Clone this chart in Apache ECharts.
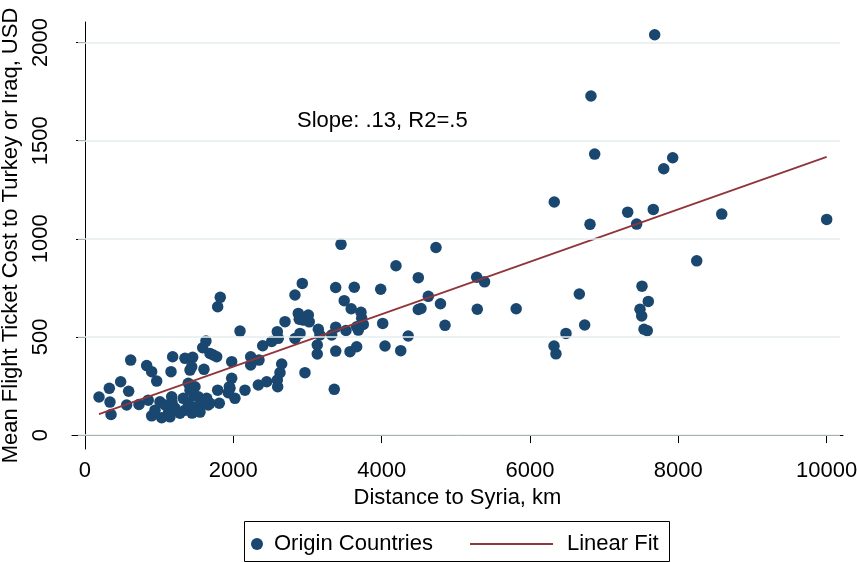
<!DOCTYPE html>
<html>
<head>
<meta charset="utf-8">
<title>Flight ticket cost vs distance to Syria</title>
<script src="https://cdn.jsdelivr.net/npm/echarts@6/dist/echarts.min.js"></script>
<style>
  html, body { margin: 0; padding: 0; background: #fff; }
  #chart { width: 857px; height: 562px; }
</style>
</head>
<body>
<div id="chart"></div>
<script>
// one entry per origin country: distance to Syria (km) and mean ticket cost (USD)
const distanceKm = [
  189, 328, 337, 351, 481, 589, 562, 616, 728, 832, 853, 899, 967, 899, 1011, 1034,
  1123, 1146, 1182, 1160, 1169, 1281, 1348, 1452, 1416, 1393, 1325, 1393, 1483, 1528,
  1528, 1604, 1631, 1587, 1685, 1776, 1789, 1824, 1662, 1789, 1811, 1978, 1978, 1955,
  2022, 2157, 2090, 2234, 2234, 2346, 2337, 2450, 2396, 2517, 2593, 2606, 2598, 2629,
  2652, 2697, 2831, 2899, 2876, 2943, 2930, 2831, 2966, 3011, 2889, 3024, 2593, 1439,
  1730, 1946, 1932, 1685, 1641, 1470, 1506, 1595, 1416, 1213, 1079, 944, 1348, 1443,
  1551, 1173,
  3452, 4193, 4494, 3380, 3631, 3987, 3495, 3589, 3721, 3731, 3752, 3685, 3663, 3146,
  3168, 3326, 3381, 3519, 4014, 3132, 3132, 3381, 3573, 3663, 4045, 4257, 4358, 3361,
  4732, 5281, 5387, 4629, 4793, 4494, 4530, 4854, 5289, 5814, 2989,
  6327, 6809, 7317, 7438, 7662, 8585, 10000, 8248, 6665, 6737, 6485, 6324, 6350, 7510,
  7595, 7483, 7506, 7537, 7581, 7681, 6822, 6872, 7924, 7803
];
const ticketUsd = [
  194, 238, 168, 105, 272, 223, 153, 382, 156, 354, 178, 323, 275, 98, 170, 88,
  111, 93, 399, 323, 195, 111, 391, 396, 331, 264, 187, 162, 246, 195,
  144, 335, 479, 445, 416, 399, 654, 702, 153, 229, 162, 374, 289, 238,
  187, 229, 530, 399, 357, 382, 255, 272, 455, 477, 527, 493, 246, 318,
  362, 578, 492, 518, 620, 586, 773, 714, 318, 612, 590, 577, 280, 348,
  408, 246, 216, 162, 187, 200, 144, 178, 229, 138, 153, 127, 127, 112,
  117, 168,
  972, 863, 802, 752, 753, 743, 685, 644, 626, 595, 564, 535, 552, 539,
  510, 510, 550, 533, 569, 459, 413, 428, 425, 450, 454, 430, 505, 233,
  956, 804, 781, 707, 669, 640, 645, 559, 641, 644, 595,
  1188, 1074, 1136, 1075, 1150, 1126, 1099, 888, 719, 561, 518, 454, 414, 759,
  681, 641, 607, 539, 532, 2040, 1728, 1432, 1413, 1357
];

// linear fit, drawn from the nearest to the farthest country
const fitDistance = [189, 10000];
const fitCost = [107, 1418];

const xTicks = [0, 2000, 4000, 6000, 8000, 10000];
const yTicks = [0, 500, 1000, 1500, 2000];

const FONT = '"Liberation Sans", Arial, sans-serif';
const NAVY = '#1a476f';
const MAROON = '#90353b';

let chart = echarts.init(document.getElementById('chart'));

let points = distanceKm.map((d, i) => [d, ticketUsd[i]]);
let fitLine = fitDistance.map((d, i) => [d, fitCost[i]]);

// horizontal gridlines at the y ticks
let gridLines = yTicks.map(v => [{ coord: [-94, v] }, { coord: [10180, v] }]);

chart.setOption({
  animation: false,
  backgroundColor: '#fff',
  textStyle: { fontFamily: FONT },
  grid: { left: 72, right: 14, top: 22, bottom: 113, containLabel: false, outerBoundsMode: 'none' },
  xAxis: {
    type: 'value',
    min: -175,
    max: 10220,
    name: 'Distance to Syria, km',
    nameLocation: 'middle',
    nameGap: 34,
    nameTextStyle: { fontSize: 22, color: '#000', fontFamily: FONT },
    axisLine: { show: true, lineStyle: { color: '#000', width: 1 } },
    axisTick: { show: true, length: 8, customValues: xTicks, lineStyle: { color: '#000' } },
    axisLabel: {
      customValues: xTicks, fontSize: 22, color: '#000', margin: 11, fontFamily: FONT,
      formatter: v => String(v)
    },
    splitLine: { show: false }
  },
  yAxis: {
    type: 'value',
    min: -71,
    max: 2105,
    name: 'Mean Flight Ticket Cost to Turkey or Iraq, USD',
    nameLocation: 'middle',
    nameRotate: 90,
    nameGap: 40,
    nameTextStyle: { fontSize: 22, color: '#000', fontFamily: FONT },
    axisLine: { show: true, lineStyle: { color: '#000', width: 1 } },
    axisTick: { show: true, length: 9, customValues: yTicks, lineStyle: { color: '#000' } },
    axisLabel: {
      customValues: yTicks, rotate: 90, fontSize: 22, color: '#000', margin: 20, fontFamily: FONT,
      formatter: v => String(v)
    },
    splitLine: { show: false }
  },
  legend: [
    {
      data: ['Origin Countries'],
      left: 251,
      top: 533,
      padding: 0,
      itemWidth: 24,
      itemHeight: 12,
      textStyle: { fontSize: 22, color: '#000', fontFamily: FONT }
    },
    {
      data: [{ name: 'Linear Fit', icon: 'rect' }],
      left: 470,
      top: 533,
      padding: 0,
      itemWidth: 83,
      itemHeight: 2,
      textStyle: { fontSize: 22, color: '#000', fontFamily: FONT, padding: [0, 0, 0, 9] }
    }
  ],
  graphic: [
    {
      type: 'rect',
      z: 0,
      shape: { x: 244.5, y: 521.5, width: 425, height: 40 },
      style: { fill: '#fff', stroke: '#000', lineWidth: 1 }
    },
    {
      type: 'text',
      x: 297,
      y: 121,
      style: { text: 'Slope: .13, R2=.5', font: '22px ' + FONT, fill: '#000', verticalAlign: 'middle' }
    }
  ],
  series: [
    {
      type: 'line',
      data: [],
      silent: true,
      z: 1,
      markLine: {
        silent: true,
        symbol: 'none',
        label: { show: false },
        lineStyle: { color: '#e6eeee', width: 1.5, type: 'solid' },
        data: gridLines
      }
    },
    {
      name: 'Origin Countries',
      type: 'scatter',
      z: 3,
      symbol: 'circle',
      symbolSize: 11.5,
      itemStyle: { color: NAVY, opacity: 1 },
      data: points
    },
    {
      name: 'Linear Fit',
      type: 'line',
      z: 4,
      symbol: 'none',
      lineStyle: { color: MAROON, width: 1.8 },
      itemStyle: { color: MAROON },
      data: fitLine
    }
  ]
});
</script>
</body>
</html>
